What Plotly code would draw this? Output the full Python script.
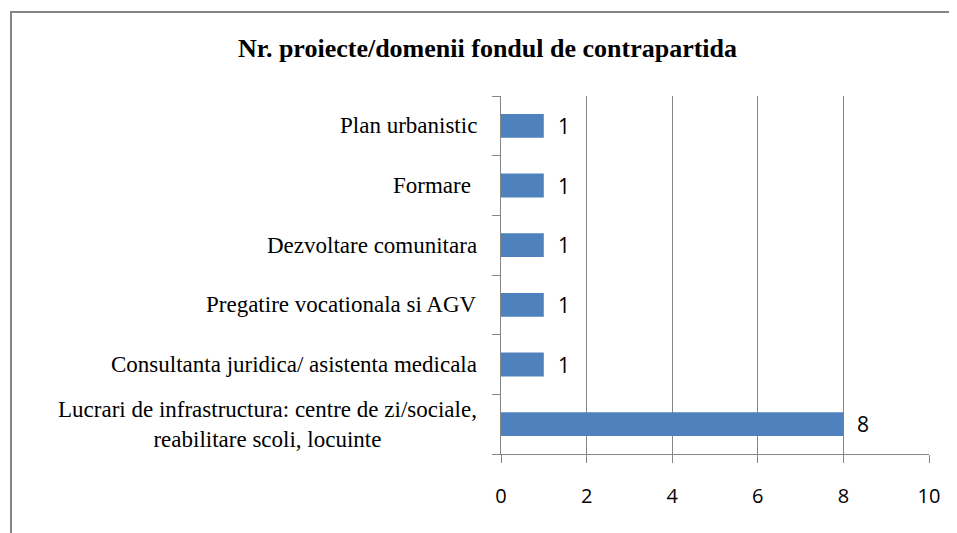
import plotly.graph_objects as go

categories = [
    "Lucrari de infrastructura: centre de zi/sociale,<br>reabilitare scoli, locuinte",
    "Consultanta juridica/ asistenta medicala",
    "Pregatire vocationala si AGV",
    "Dezvoltare comunitara",
    "Formare ",
    "Plan urbanistic",
]
values = [8, 1, 1, 1, 1, 1]
x_ticks = [0, 2, 4, 6, 8, 10]
title_text = "Nr. proiecte/domenii fondul de contrapartida"

# page has an 8px body margin, so the figure is slightly smaller
W, H = 949, 525
L, R, T, B = 493, 28, 88, 79
plot_w = W - L - R
plot_h = H - T - B

fig = go.Figure()
fig.add_trace(go.Bar(
    y=categories, x=values, orientation="h",
    marker=dict(color="#4F81BD", line=dict(width=0)),
    width=0.4,
    hoverinfo="skip",
))

serif = "Liberation Serif, Times New Roman, serif"
sans = "Open Sans, Liberation Sans, sans-serif"

for c, v in zip(categories, values):
    fig.add_annotation(
        x=0, xref="paper", y=c, yref="y", text=c, showarrow=False,
        xanchor="right", xshift=-22, align="center",
        font=dict(family=serif, size=23, color="#000000"),
    )
    fig.add_annotation(
        x=v, xref="x", y=c, yref="y", text=str(v), showarrow=False,
        xanchor="left", xshift=12,
        font=dict(family=sans, size=21, color="#000000"),
    )

# chart border (extends past right/bottom edges like the reference)
fig.add_shape(
    type="rect", xref="paper", yref="paper",
    x0=(3 - L) / plot_w, x1=(W + 30 - L) / plot_w,
    y0=(H - B - (H + 30)) / plot_h, y1=(H - B - 4) / plot_h,
    line=dict(color="#868686", width=2), fillcolor="rgba(0,0,0,0)", layer="below",
)

fig.update_layout(
    width=W, height=H,
    margin=dict(l=L, r=R, t=T, b=B),
    paper_bgcolor="white", plot_bgcolor="white",
    showlegend=False,
    title=dict(
        text="<b>" + title_text + "</b>",
        x=(487.5 - 8) / W, xanchor="center", y=1 - 40 / H, yanchor="middle",
        font=dict(family=serif, size=26, color="#000000"),
    ),
    xaxis=dict(
        range=[0, 10], tickvals=x_ticks, ticktext=[str(t) for t in x_ticks],
        showgrid=True, gridcolor="#868686", gridwidth=1,
        showline=True, linecolor="#868686", linewidth=1,
        ticks="outside", ticklen=8, tickcolor="#868686",
        ticklabelstandoff=16,
        tickfont=dict(family=sans, size=20, color="#000000"),
        zeroline=False, fixedrange=True,
    ),
    yaxis=dict(
        showticklabels=False, showgrid=False,
        showline=True, linecolor="#868686", linewidth=1,
        ticks="outside", ticklen=8, tickcolor="#868686", tickson="boundaries",
        fixedrange=True,
    ),
)

fig.write_html("out.html")
